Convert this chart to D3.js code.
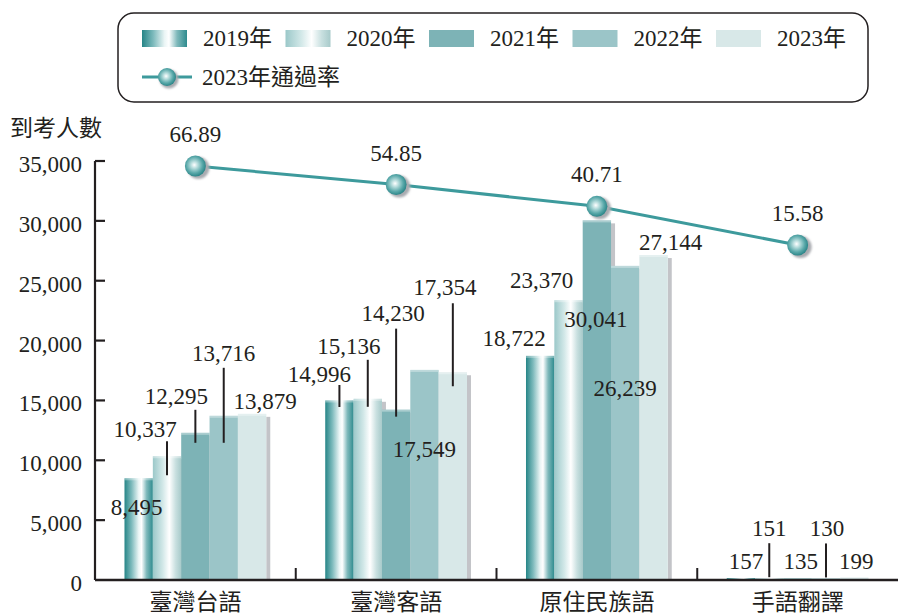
<!DOCTYPE html>
<html><head><meta charset="utf-8">
<script src="https://cdn.jsdelivr.net/npm/d3@7"></script>
<style>
body{margin:0;background:#fff;}
svg{display:block;}
text{font-family:"Liberation Serif","Times New Roman","Noto Sans CJK TC",serif;fill:#231f20;}
</style></head><body>
<svg id="c" width="898" height="614"></svg>
<script>
// ---------- data ----------
const categories = ["臺灣台語", "臺灣客語", "原住民族語", "手語翻譯"];
const years = ["2019年", "2020年", "2021年", "2022年", "2023年"];
const v2019 = [8495, 14996, 18722, 157];
const v2020 = [10337, 15136, 23370, 151];
const v2021 = [12295, 14230, 30041, 135];
const v2022 = [13716, 17549, 26239, 130];
const v2023 = [13879, 17354, 27144, 199];
const passRate2023 = [66.89, 54.85, 40.71, 15.58];
const yTicks = [0, 5000, 10000, 15000, 20000, 25000, 30000, 35000];
const rateName = "2023年通過率";
const yTitle = "到考人數";

// ---------- layout (label offsets relative to bar top: [dx, dy, leaderFrom, leaderTo]) ----------
const labelLayout = [
  [[-2, 37], [-20, -18.5, -15.5, 6.5], [-26, -10], [5, -9]],
  [[-22, -19, -15, 19], [-19, -45, -39, 8], [-27, -12], [0, -42, -35, -1]],
  [[-19, -29, -23, 10], [-3, -89, -81, 7], [-1, 107], [3, -9]],
  [[0, -55, -48, 27], [0, 87], [0, 130], [1, -42, -35, -1]],
  [[13, -5], [-8, -77, -69, 14], [17, -5], [2, -9]]
];

const series = [v2019, v2020, v2021, v2022, v2023];
const fmt = d3.format(",");
const svg = d3.select("#c");
const defs = svg.append("defs");

// gradients
function linGrad(id, stops) {
  const g = defs.append("linearGradient").attr("id", id).attr("x1", "0%").attr("x2", "100%").attr("y1", "0%").attr("y2", "0%");
  stops.forEach(s => g.append("stop").attr("offset", s[0]).attr("stop-color", s[1]));
}
linGrad("g2019", [[0, "#268587"], [0.25, "#7dbabc"], [0.5, "#eaf5f5"], [0.6, "#ffffff"], [0.78, "#7fb9bb"], [1, "#2e8b8e"]]);
linGrad("g2020", [[0, "#9bc8c9"], [0.35, "#d2e8e8"], [0.58, "#ffffff"], [0.8, "#c9e0e0"], [1, "#a7caca"]]);
const fills = ["url(#g2019)", "url(#g2020)", "#7db3b6", "#9bc5c8", "#d8e8e8"];

const rg = defs.append("radialGradient").attr("id", "sphere").attr("cx", "45%").attr("cy", "45%").attr("r", "55%");
[[0, "#ffffff"], [0.3, "#b6dcdc"], [0.7, "#5aa9aa"], [1, "#2c8689"]].forEach(s => rg.append("stop").attr("offset", s[0]).attr("stop-color", s[1]));
const blur = defs.append("filter").attr("id", "blur").attr("x", "-50%").attr("y", "-50%").attr("width", "200%").attr("height", "200%");
blur.append("feGaussianBlur").attr("stdDeviation", 1.2);

// scales
const x0 = d3.scaleBand().domain(categories).range([95, 898]).paddingInner(0).paddingOuter(0);
const x1 = d3.scaleBand().domain(years).range([0, x0.bandwidth()]).paddingInner(0).paddingOuter(1.04);
const y = d3.scaleLinear().domain([0, 35000]).range([580, 161]);
const yRate = d3.scaleLinear().domain([0, 100]).range([269, 115]);

// y title
svg.append("text").attr("x", 10).attr("y", 136).attr("font-size", 23).text(yTitle);

// y axis
const yAxis = svg.append("g");
yAxis.append("line").attr("x1", 95).attr("x2", 95).attr("y1", y(35000)).attr("y2", 580).attr("stroke", "#231f20").attr("stroke-width", 2.2);
yTicks.forEach(t => {
  if (t > 0) yAxis.append("line").attr("x1", 95).attr("x2", 105).attr("y1", y(t)).attr("y2", y(t)).attr("stroke", "#231f20").attr("stroke-width", 2.2);
  yAxis.append("text").attr("x", 82).attr("y", y(t) + 11).attr("text-anchor", "end").attr("font-size", 23).text(fmt(t));
});

// bars
const bars = svg.append("g");
const bw = x1.bandwidth();
// shadows first
series.forEach((vals, si) => {
  vals.forEach((v, ci) => {
    const bx = x0(categories[ci]) + x1(years[si]);
    const h = 580 - y(v);
    if (h > 4) bars.append("rect").attr("x", bx + bw).attr("y", y(v) + 3).attr("width", 4).attr("height", 580 - y(v) - 3).attr("fill", "#c3c4c8");
  });
});
series.forEach((vals, si) => {
  vals.forEach((v, ci) => {
    const bx = x0(categories[ci]) + x1(years[si]);
    bars.append("rect").attr("x", bx).attr("y", y(v)).attr("width", bw).attr("height", 580 - y(v)).attr("fill", fills[si]);
    if (580 - y(v) > 4) bars.append("rect").attr("x", bx).attr("y", y(v)).attr("width", bw).attr("height", 2).attr("fill", "#ffffff").attr("opacity", 0.35);
  });
});

// x axis
svg.append("line").attr("x1", 95).attr("x2", 898).attr("y1", 580).attr("y2", 580).attr("stroke", "#231f20").attr("stroke-width", 2.5);
categories.forEach((c, i) => {
  if (i > 0) svg.append("line").attr("x1", x0(c)).attr("x2", x0(c)).attr("y1", 580).attr("y2", 568).attr("stroke", "#231f20").attr("stroke-width", 2);
  svg.append("text").attr("x", x0(c) + x0.bandwidth() / 2).attr("y", 610).attr("text-anchor", "middle").attr("font-size", 23).text(c);
});

// value labels + leaders
series.forEach((vals, si) => {
  vals.forEach((v, ci) => {
    const cx = x0(categories[ci]) + x1(years[si]) + bw / 2;
    const ty = y(v);
    const L = labelLayout[si][ci];
    if (L.length > 2) svg.append("line").attr("x1", cx).attr("x2", cx).attr("y1", ty + L[2]).attr("y2", ty + L[3]).attr("stroke", "#231f20").attr("stroke-width", 2);
    svg.append("text").attr("x", cx + L[0]).attr("y", ty + L[1]).attr("text-anchor", "middle").attr("font-size", 23).text(fmt(v));
  });
});

// rate line
const cxs = categories.map(c => x0(c) + x0.bandwidth() / 2);
const line = d3.line().x((d, i) => cxs[i]).y(d => yRate(d));
svg.append("path").datum(passRate2023).attr("d", line).attr("fill", "none").attr("stroke", "#3d9a9c").attr("stroke-width", 3);
passRate2023.forEach((r, i) => {
  svg.append("circle").attr("cx", cxs[i] + 3).attr("cy", yRate(r) + 2).attr("r", 11).attr("fill", "#a9abb0").attr("filter", "url(#blur)");
  svg.append("circle").attr("cx", cxs[i]).attr("cy", yRate(r)).attr("r", 10.5).attr("fill", "url(#sphere)");
  svg.append("text").attr("x", cxs[i]).attr("y", yRate(r) - 24).attr("text-anchor", "middle").attr("font-size", 23).text(d3.format(".2f")(r));
});

// legend
const lg = svg.append("g");
lg.append("rect").attr("x", 118).attr("y", 13).attr("width", 750).attr("height", 89).attr("rx", 16).attr("fill", "#fff").attr("stroke", "#231f20").attr("stroke-width", 1.5);
years.forEach((yr, i) => {
  const lx = 142 + i * 143.5;
  lg.append("rect").attr("x", lx).attr("y", 30).attr("width", 45).attr("height", 17).attr("fill", fills[i]);
  lg.append("text").attr("x", lx + 61).attr("y", 46).attr("font-size", 23).text(yr);
});
lg.append("line").attr("x1", 142).attr("x2", 192).attr("y1", 77).attr("y2", 77).attr("stroke", "#3d9a9c").attr("stroke-width", 3);
lg.append("circle").attr("cx", 169).attr("cy", 79).attr("r", 9.5).attr("fill", "#a9abb0").attr("filter", "url(#blur)");
lg.append("circle").attr("cx", 167).attr("cy", 77).attr("r", 9).attr("fill", "url(#sphere)");
lg.append("text").attr("x", 202).attr("y", 85).attr("font-size", 23).text(rateName);
</script>
</body></html>
